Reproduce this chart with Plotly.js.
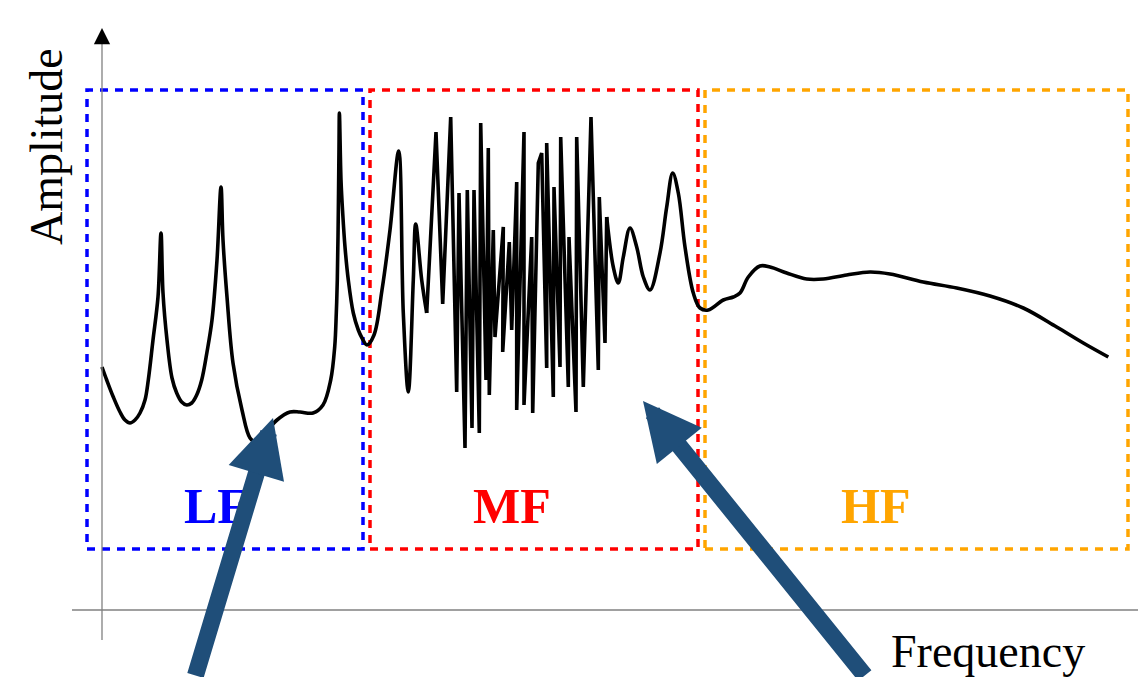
<!DOCTYPE html>
<html>
<head>
<meta charset="utf-8">
<script src="https://cdn.plot.ly/plotly-3.0.1.min.js"></script>
<style>
  html, body { margin: 0; padding: 0; background: #ffffff; }
  #chart { width: 1138px; height: 677px; }
</style>
</head>
<body>
<div id="chart"></div>
<script>
// ---- data (frequency from the amplitude axis, amplitude above the frequency axis) ----
// smooth low-frequency resonances (plus first modes of the mid band)
const freqLow = [0, 4.7, 11.3, 18, 23, 28, 33, 38, 43, 46.3, 51, 56, 59, 61, 65, 70, 74.7, 79.7, 84.7, 89.7, 94.7, 99.7, 105, 110, 115, 119, 121, 125, 131, 140, 148, 154, 164, 175, 188, 198, 211, 221, 228.7, 232.7, 234.3, 235.3, 236.3, 237, 237.4, 239, 240.7, 243, 246.3, 251.3, 256.3, 260, 265, 272, 280, 288, 296.7, 301.3, 306.3, 311.3, 313.7, 319.7, 324.7];
const ampLow  = [243, 230, 213, 198, 190, 187, 190, 197, 210, 230, 270, 313, 377, 317, 270, 232, 217, 208, 205, 207, 215, 230, 258, 290, 350, 423, 370, 313, 247, 200, 172, 168, 178, 190, 198, 198, 197, 205, 230, 263, 297, 330, 397, 463, 497, 430, 397, 363, 330, 297, 280, 272, 265, 275, 320, 380, 459, 297, 218, 330, 386, 330, 297];

// dense, chaotic mid-frequency response
const freqMid = [324.7, 334, 340.7, 348.7, 354.7, 357, 363, 365.3, 370, 372, 377.3, 378.7, 384, 386.3, 387.3, 391.3, 393, 401.3, 400.7, 407.3, 409.7, 414.7, 414.7, 422, 422, 429.7, 430.7, 436.3, 439.7, 444.7, 444.7, 451.3, 452, 458, 458.7, 466.3, 467, 474, 474.7, 481.3, 489, 496.3, 497.3, 503, 504.7];
const ampMid  = [297, 478, 306, 493, 218, 417, 162, 420, 182, 420, 177, 487, 230, 462, 215, 380, 273, 383, 258, 368, 280, 428, 200, 478, 205, 373, 197, 447, 457, 242, 467, 213, 423, 243, 473, 223, 373, 198, 473, 223, 493, 240, 413, 267, 393];

// smooth tail of the mid band and the high-frequency band
const freqHigh = [504.7, 511.3, 516.3, 521.3, 528, 534.7, 541.3, 548, 558, 564.7, 570.7, 576.3, 583, 591.3, 598, 606.3, 621.3, 631.3, 638, 646.3, 658, 668, 684.7, 704.7, 721.3, 744.7, 768, 788, 821.3, 854.7, 888, 921.3, 954.7, 981.3, 1006.3];
const ampHigh  = [393, 343, 327, 353, 382, 363, 333, 320, 357, 403, 437, 417, 363, 317, 302, 300, 310, 313, 317, 333, 344, 343, 337, 331, 331, 335, 338, 336, 328, 322, 314, 302, 283, 267, 253];

// frequency bands
const bandNames  = ['LF', 'MF', 'HF'];
const bandStart  = [-15, 268, 603];
const bandEnd    = [261, 596, 1026];
const bandBottom = 61;
const bandTop    = 520;
const bandColors = ['#0000ff', '#ff0000', '#ffa500'];
const bandLabelX = [114, 410, 773];
const bandLabelY = 104;

// pointer arrows (tip positions)
const arrowTipX = [171, 541];
const arrowTipY = [192, 209];

// ---- chart ----
const serif = 'Liberation Serif, Times New Roman, serif';
const curveLine = { color: '#000000', width: 3.6 };

const traces = [
  { x: freqLow,  y: ampLow,  mode: 'lines', line: Object.assign({ shape: 'spline', smoothing: 1 }, curveLine), hoverinfo: 'skip' },
  { x: freqMid,  y: ampMid,  mode: 'lines', line: Object.assign({ shape: 'linear' }, curveLine), hoverinfo: 'skip' },
  { x: freqHigh, y: ampHigh, mode: 'lines', line: Object.assign({ shape: 'spline', smoothing: 1 }, curveLine), hoverinfo: 'skip' }
];

const shapes = [
  // frequency axis
  { type: 'line', xref: 'x', yref: 'y', x0: -30, x1: 1036, y0: 0, y1: 0, line: { color: '#808080', width: 1.3 } },
  // amplitude axis
  { type: 'line', xref: 'x', yref: 'y', x0: 0, x1: 0, y0: -30, y1: 575, line: { color: '#808080', width: 1.3 } }
];
bandNames.forEach((n, i) => {
  shapes.push({
    type: 'rect', xref: 'x', yref: 'y',
    x0: bandStart[i], x1: bandEnd[i], y0: bandBottom, y1: bandTop,
    line: { color: bandColors[i], width: 3.5, dash: '8px,7px' },
    fillcolor: 'rgba(0,0,0,0)', layer: 'below'
  });
});

const annotations = [];
bandNames.forEach((n, i) => {
  annotations.push({
    x: bandLabelX[i], y: bandLabelY, xref: 'x', yref: 'y',
    text: '<b>' + n + '</b>', showarrow: false,
    font: { family: serif, size: 50, color: bandColors[i] }
  });
});
annotations.push({
  x: -56, y: 463, xref: 'x', yref: 'y', text: 'Amplitude', textangle: -90, showarrow: false,
  font: { family: serif, size: 46, color: '#000000' }
});
annotations.push({
  x: 886, y: -41, xref: 'x', yref: 'y', text: 'Frequency', showarrow: false,
  font: { family: serif, size: 46, color: '#000000' }
});
// amplitude-axis arrowhead
annotations.push({
  x: 0, y: 582, xref: 'x', yref: 'y', text: '', showarrow: true,
  ax: 0, ay: 14, arrowhead: 2, arrowsize: 2.5, arrowwidth: 1.3, arrowcolor: '#000000'
});
// pointer arrows
const arrowOffsets = [[-78, 296], [223, 320]];
arrowTipX.forEach((ax, i) => {
  annotations.push({
    x: ax, y: arrowTipY[i], xref: 'x', yref: 'y', text: '', showarrow: true,
    ax: arrowOffsets[i][0], ay: arrowOffsets[i][1],
    arrowhead: 2, arrowsize: 0.68, arrowwidth: 17, arrowcolor: '#1f4e79'
  });
});

const layout = {
  width: 1138, height: 677,
  margin: { l: 0, r: 0, t: 0, b: 0, pad: 0 },
  paper_bgcolor: '#ffffff', plot_bgcolor: '#ffffff',
  showlegend: false,
  xaxis: { range: [-102, 1036], visible: false, showgrid: false, zeroline: false, fixedrange: true },
  yaxis: { range: [-67, 610], visible: false, showgrid: false, zeroline: false, fixedrange: true },
  shapes: shapes,
  annotations: annotations
};

Plotly.newPlot('chart', traces, layout, { displayModeBar: false, staticPlot: true });
</script>
</body>
</html>
